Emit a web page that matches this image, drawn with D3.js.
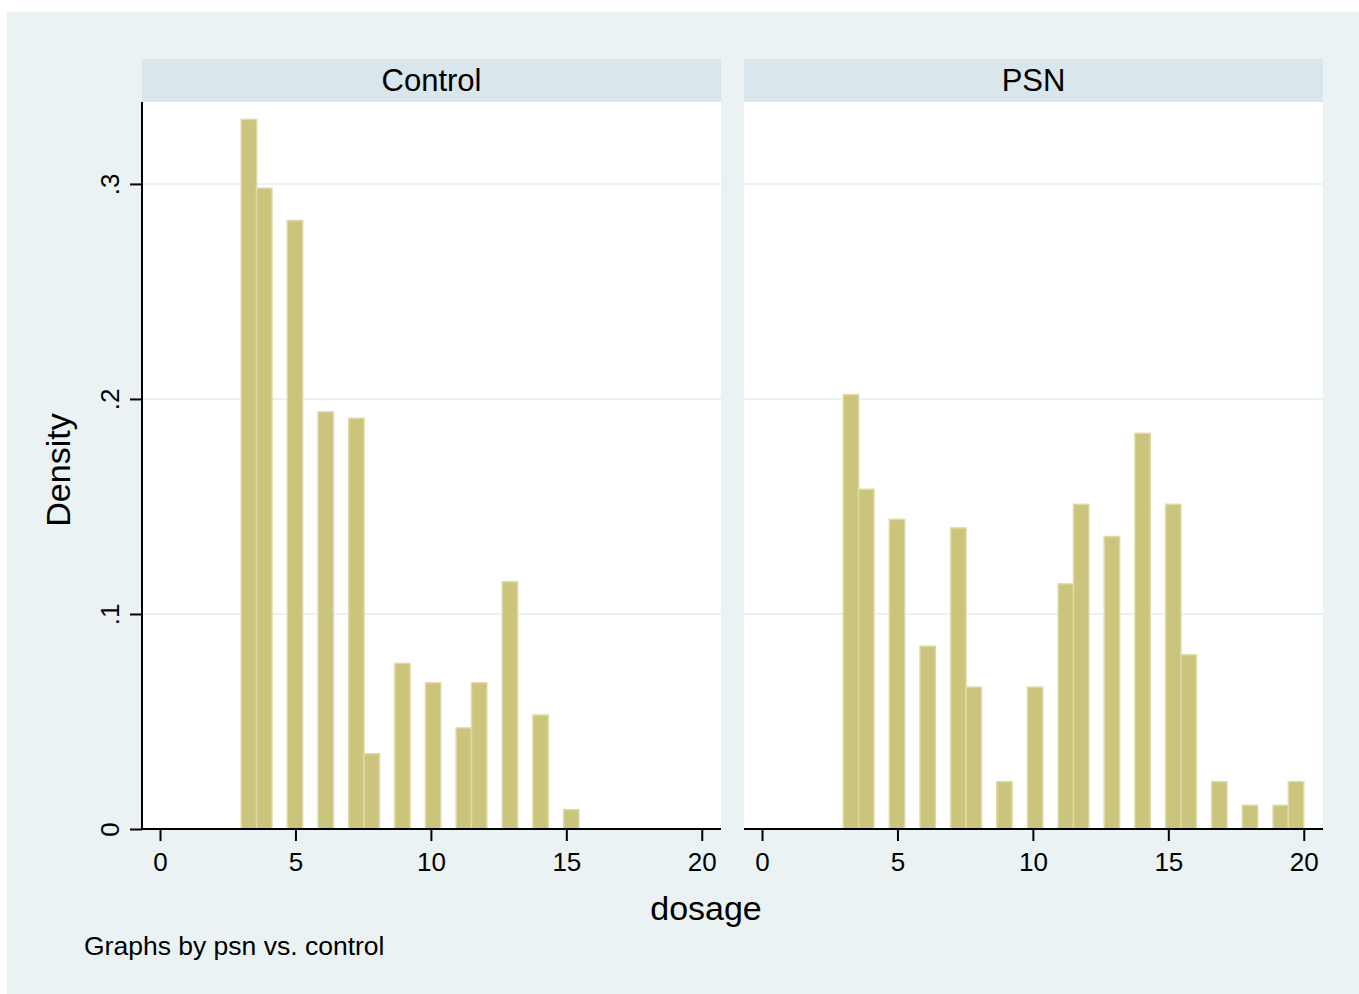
<!DOCTYPE html>
<html>
<head>
<meta charset="utf-8">
<script src="https://cdn.jsdelivr.net/npm/d3@7"></script>
<style>
  body { margin: 0; background: #ffffff; }
  text { font-family: "Liberation Sans", Arial, Helvetica, sans-serif; fill: #000; }
</style>
</head>
<body>
<div id="chart"></div>
<script>
// histogram settings (30 bins from 3 to 20)
var binStart = 3;
var binEnd = 20;
var binCount = 30;

// panel names
var panelNames = ["Control", "PSN"];

// bin index and density for Control
var controlBins = [0, 1, 3, 5, 7, 8, 10, 12, 14, 15, 17, 19, 21];
var controlDensity = [0.330, 0.298, 0.283, 0.194, 0.191, 0.035, 0.077, 0.068, 0.047, 0.068, 0.115, 0.053, 0.009];

// bin index and density for PSN
var psnBins = [0, 1, 3, 5, 7, 8, 10, 12, 14, 15, 17, 19, 21, 22, 24, 26, 28, 29];
var psnDensity = [0.202, 0.158, 0.144, 0.085, 0.140, 0.066, 0.022, 0.066, 0.114, 0.151, 0.136, 0.184, 0.151, 0.081, 0.022, 0.011, 0.011, 0.022];

// axis ticks
var xTicks = [0, 5, 10, 15, 20];
var yTicks = [0, 0.1, 0.2, 0.3];
var yTickLabels = ["0", ".1", ".2", ".3"];

var width = 1359;
var height = 994;

var svg = d3.select("#chart").append("svg")
  .attr("width", width)
  .attr("height", height);

// outer background
svg.append("rect")
  .attr("x", 7).attr("y", 12)
  .attr("width", width - 7).attr("height", height - 12)
  .attr("fill", "#eaf2f3");

var binWidth = (binEnd - binStart) / binCount;

var plotTop = 102;
var plotBottom = 829;
var plotWidth = 579;
var panelLeft = [142, 744];

var x = d3.scaleLinear().domain([-0.665, 20.71]).range([0, plotWidth]);
var y = d3.scaleLinear().domain([0, 0.3381]).range([plotBottom, plotTop]);

var panelData = [
  controlBins.map(function (b, i) { return { bin: b, density: controlDensity[i] }; }),
  psnBins.map(function (b, i) { return { bin: b, density: psnDensity[i] }; })
];

panelNames.forEach(function (name, p) {
  var g = svg.append("g").attr("transform", "translate(" + panelLeft[p] + ",0)");

  // strip with panel title
  g.append("rect")
    .attr("x", 0).attr("y", 59)
    .attr("width", plotWidth).attr("height", plotTop - 59)
    .attr("fill", "#d9e6eb");
  g.append("text")
    .attr("x", plotWidth / 2).attr("y", 91)
    .attr("text-anchor", "middle")
    .style("font-size", "31px")
    .text(name);

  // plot region
  g.append("rect")
    .attr("x", 0).attr("y", plotTop)
    .attr("width", plotWidth).attr("height", plotBottom - plotTop)
    .attr("fill", "#ffffff");

  // grid lines
  g.selectAll(".grid")
    .data(yTicks.slice(1))
    .enter().append("line")
    .attr("x1", 0).attr("x2", plotWidth)
    .attr("y1", function (d) { return y(d); })
    .attr("y2", function (d) { return y(d); })
    .style("stroke", "#eaf2f3")
    .style("stroke-width", 2);

  // bars
  g.selectAll(".bar")
    .data(panelData[p])
    .enter().append("rect")
    .attr("x", function (d) { return x(binStart + d.bin * binWidth); })
    .attr("width", function (d) { return x(binStart + (d.bin + 1) * binWidth) - x(binStart + d.bin * binWidth); })
    .attr("y", function (d) { return y(d.density); })
    .attr("height", function (d) { return y(0) - y(d.density); })
    .attr("fill", "#cbc47c")
    .style("stroke", "#dedaa6")
    .style("stroke-width", 1.5);

  // x axis
  var xAxis = d3.axisBottom(x).tickValues(xTicks).tickSize(12).tickPadding(12).tickFormat(d3.format("d"));
  var ax = g.append("g")
    .attr("transform", "translate(0," + plotBottom + ")")
    .call(xAxis);
  ax.select(".domain").attr("d", "M0,0H" + plotWidth).style("stroke", "#000").style("stroke-width", 2);
  ax.selectAll(".tick line").style("stroke", "#000").style("stroke-width", 2);
  ax.selectAll(".tick text")
    .style("font-size", "26px")
    .style("font-family", "'Liberation Sans', Arial, sans-serif")
    .attr("fill", "#000");

  // y axis only on first panel
  if (p === 0) {
    var yAxis = d3.axisLeft(y).tickValues(yTicks).tickSize(12).tickPadding(0)
      .tickFormat(function (d, i) { return yTickLabels[i]; });
    var ay = g.append("g").call(yAxis);
    ay.select(".domain").attr("d", "M0," + plotTop + "V" + plotBottom).style("stroke", "#000").style("stroke-width", 2);
    ay.selectAll(".tick line").style("stroke", "#000").style("stroke-width", 2);
    ay.selectAll(".tick text")
      .style("font-size", "26px")
      .style("font-family", "'Liberation Sans', Arial, sans-serif")
      .attr("fill", "#000")
      .attr("text-anchor", "middle")
      .attr("x", 0).attr("dy", 0)
      .attr("transform", "translate(-23,0) rotate(-90)");
  }
});

// axis titles
svg.append("text")
  .attr("x", 706).attr("y", 920)
  .attr("text-anchor", "middle")
  .style("font-size", "34px")
  .text("dosage");

svg.append("text")
  .attr("transform", "translate(70,470) rotate(-90)")
  .attr("text-anchor", "middle")
  .style("font-size", "34px")
  .text("Density");

// note
svg.append("text")
  .attr("x", 84).attr("y", 955)
  .style("font-size", "26.5px")
  .text("Graphs by psn vs. control");
</script>
</body>
</html>
